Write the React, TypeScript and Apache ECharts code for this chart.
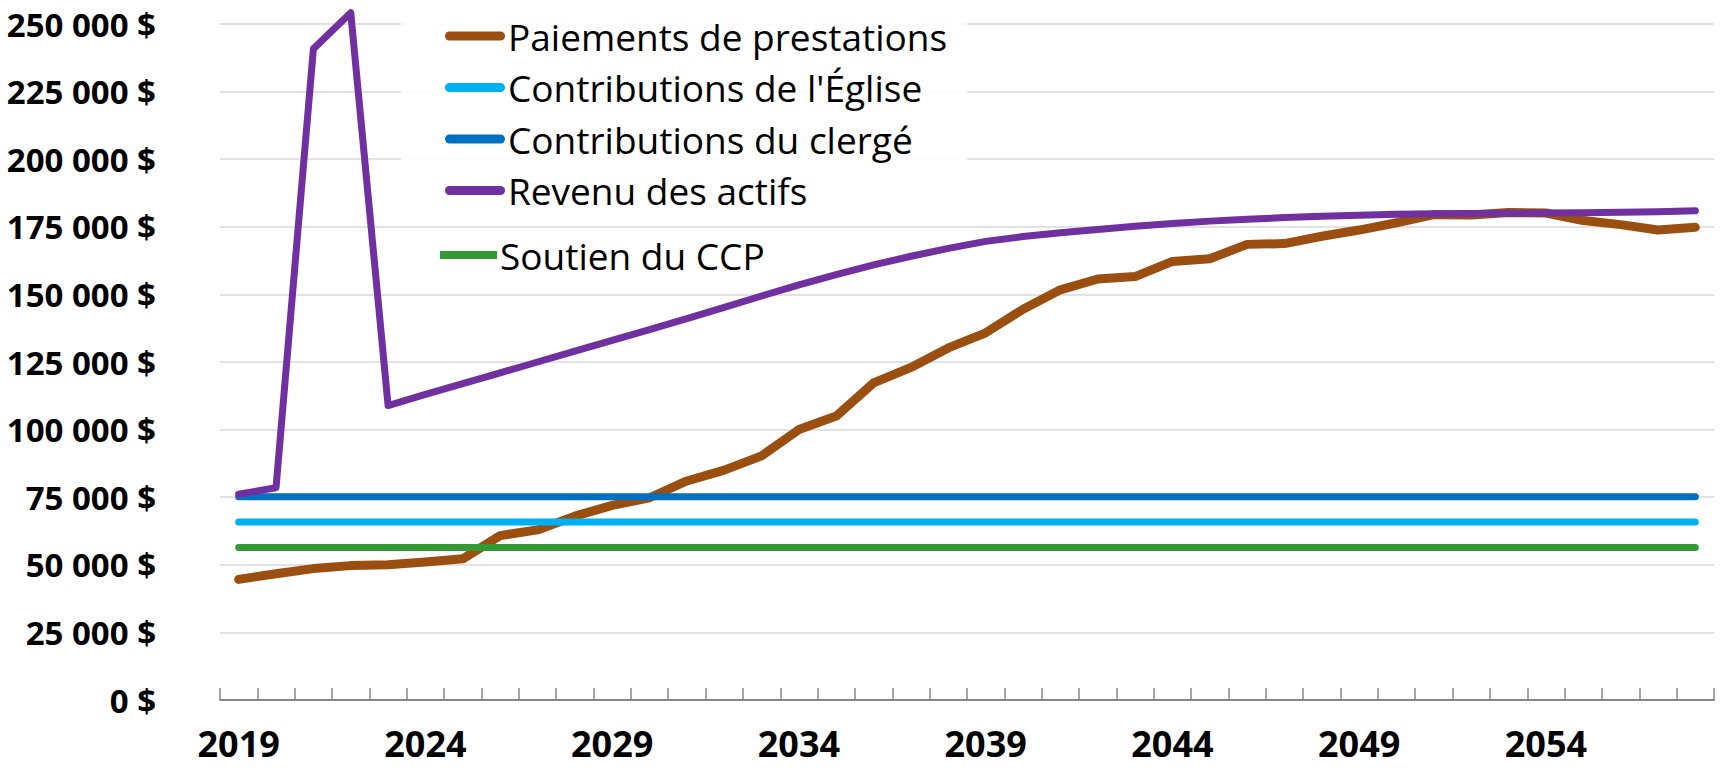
import React, { useEffect, useRef } from "react";
import * as echarts from "echarts";

const years = [
  "2019", "2020", "2021", "2022", "2023", "2024", "2025", "2026", "2027", "2028",
  "2029", "2030", "2031", "2032", "2033", "2034", "2035", "2036", "2037", "2038",
  "2039", "2040", "2041", "2042", "2043", "2044", "2045", "2046", "2047", "2048",
  "2049", "2050", "2051", "2052", "2053", "2054", "2055", "2056", "2057", "2058",
];

const paiements = [
  44600, 46700, 48600, 49700, 50000, 51000, 52200, 60800, 62900, 68000,
  72000, 74800, 81000, 85000, 90300, 100000, 105000, 117300, 123000, 130200,
  135800, 144500, 151700, 155700, 156600, 162200, 163200, 168500, 168800, 171500,
  173800, 176500, 179500, 179400, 180300, 180100, 177300, 175800, 173800, 174800,
];

const contributionsEglise = [
  65800, 65800, 65800, 65800, 65800, 65800, 65800, 65800, 65800, 65800,
  65800, 65800, 65800, 65800, 65800, 65800, 65800, 65800, 65800, 65800,
  65800, 65800, 65800, 65800, 65800, 65800, 65800, 65800, 65800, 65800,
  65800, 65800, 65800, 65800, 65800, 65800, 65800, 65800, 65800, 65800,
];

const contributionsClerge = [
  75200, 75200, 75200, 75200, 75200, 75200, 75200, 75200, 75200, 75200,
  75200, 75200, 75200, 75200, 75200, 75200, 75200, 75200, 75200, 75200,
  75200, 75200, 75200, 75200, 75200, 75200, 75200, 75200, 75200, 75200,
  75200, 75200, 75200, 75200, 75200, 75200, 75200, 75200, 75200, 75200,
];

const revenuActifs = [
  76100, 78500, 240800, 254200, 108900, 113000, 117000, 121000, 125000, 129000,
  133000, 137000, 141000, 145200, 149400, 153500, 157300, 160900, 164100, 167000,
  169600, 171400, 172800, 174000, 175200, 176200, 177100, 177800, 178400, 178900,
  179300, 179600, 179800, 179900, 180000, 180100, 180200, 180400, 180600, 180900,
];

const soutienCCP = [
  56400, 56400, 56400, 56400, 56400, 56400, 56400, 56400, 56400, 56400,
  56400, 56400, 56400, 56400, 56400, 56400, 56400, 56400, 56400, 56400,
  56400, 56400, 56400, 56400, 56400, 56400, 56400, 56400, 56400, 56400,
  56400, 56400, 56400, 56400, 56400, 56400, 56400, 56400, 56400, 56400,
];

const seriesNames = [
  "Paiements de prestations",
  "Contributions de l'Église",
  "Contributions du clergé",
  "Revenu des actifs",
  "Soutien du CCP",
];

const colors = ["#9A4F10", "#00B0F0", "#0070C0", "#7030A0", "#339A35"];

const yMin = 0;
const yMax = 250000;
const yInterval = 25000;

const FONT = "'Open Sans', 'Noto Sans', sans-serif";

function fmtMoney(v: number): string {
  return String(v).replace(/\B(?=(\d{3})+(?!\d))/g, " ") + " $";
}

const capsule = "path://M4.5,0 L55.5,0 A4.5,4.5 0 0 1 55.5,9 L4.5,9 A4.5,4.5 0 0 1 4.5,0 Z";

export default function App() {
  const ref = useRef<HTMLDivElement>(null);

  useEffect(() => {
    document.body.style.margin = "0";
    if (!ref.current) return;
    const chart = echarts.init(ref.current, undefined, { renderer: "svg" });
    const values = [paiements, contributionsEglise, contributionsClerge, revenuActifs, soutienCCP];
    const widths = [9, 7, 7, 7, 7];
    chart.setOption({
      animation: false,
      backgroundColor: "#ffffff",
      grid: { left: 220, right: 9, top: 24, bottom: 70, containLabel: false },
      legend: [
        {
          data: seriesNames.slice(0, 4).map((n, i) => ({
            name: n,
            icon: capsule,
            itemStyle: { color: colors[i] },
          })),
          orient: "vertical",
          left: 401,
          top: 3,
          padding: [10, 20, 0, 44],
          itemWidth: 60,
          itemHeight: 9,
          itemGap: 5.5,
          backgroundColor: "rgba(255,255,255,0.9)",
          textStyle: { fontFamily: FONT, fontSize: 37, color: "#000", lineHeight: 46, padding: [0, 0, 0, -2] },
          selectedMode: false,
        },
        {
          data: [{ name: seriesNames[4], icon: "rect", itemStyle: { color: colors[4] } }],
          orient: "vertical",
          left: 440,
          top: 232,
          padding: 0,
          itemWidth: 57,
          itemHeight: 8,
          textStyle: { fontFamily: FONT, fontSize: 37, color: "#000", lineHeight: 46, padding: [0, 0, 0, -2] },
          selectedMode: false,
        },
      ],
      xAxis: {
        type: "category",
        data: years,
        boundaryGap: true,
        axisLine: { show: true, lineStyle: { color: "#878787", width: 2 } },
        axisTick: { show: true, inside: true, length: 12, interval: 0, lineStyle: { color: "#878787", width: 1.5 } },
        axisLabel: {
          interval: 4,
          margin: 30,
          fontFamily: FONT,
          fontWeight: "bold",
          fontSize: 36,
          lineHeight: 26,
          color: "#000",
        },
        splitLine: { show: false },
      },
      yAxis: {
        type: "value",
        min: yMin,
        max: yMax,
        interval: yInterval,
        axisLine: { show: false },
        axisTick: { show: false },
        axisLabel: {
          margin: 64,
          fontFamily: FONT,
          fontWeight: "bold",
          fontSize: 33,
          color: "#000",
          formatter: (v: number) => fmtMoney(v),
        },
        splitLine: { show: true, lineStyle: { color: "#d9d9d9", width: 1.5 } },
      },
      series: seriesNames.map((name, i) => ({
        name,
        type: "line",
        data: values[i],
        showSymbol: false,
        symbol: "none",
        clip: false,
        z: i === 0 ? 1 : 2 + i,
        lineStyle: { color: colors[i], width: widths[i], cap: "round", join: "round" },
        itemStyle: { color: colors[i] },
      })),
    });
    return () => chart.dispose();
  }, []);

  return (
    <div
      ref={ref}
      style={{ position: "fixed", left: 0, top: 0, width: 1723, height: 770 }}
    />
  );
}
